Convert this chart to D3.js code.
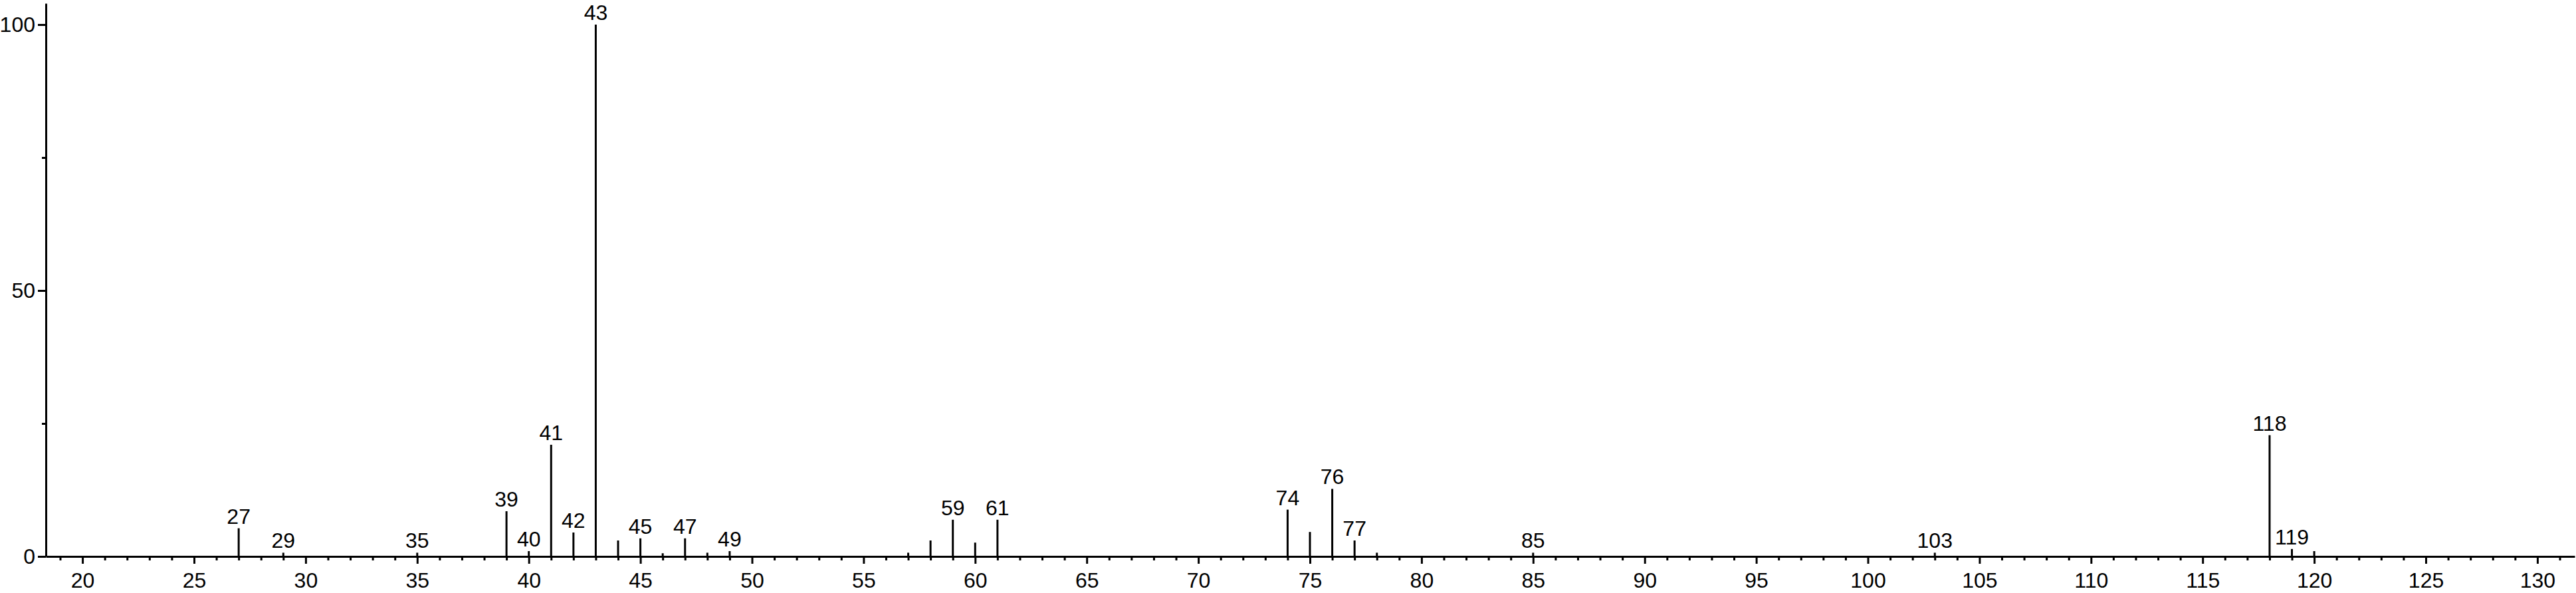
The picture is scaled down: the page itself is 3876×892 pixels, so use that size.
<!DOCTYPE html>
<html>
<head>
<meta charset="utf-8">
<script src="https://cdn.jsdelivr.net/npm/d3@7"></script>
<style>
  html, body { margin: 0; padding: 0; background: #fff; }
  svg { display: block; }
  text { font-family: "Liberation Sans", Arial, sans-serif; fill: #000; }
</style>
</head>
<body>
<div id="chart"></div>
<script>
// m/z values of the peaks and their relative intensity (%)
var mz = [27, 29, 35, 39, 40, 41, 42, 43, 44, 45, 46, 47, 48, 49, 57, 58, 59, 60, 61,
  74, 75, 76, 77, 78, 85, 103, 118, 119, 120];
var intensity = [5.3, 0.7, 0.7, 8.5, 1.0, 21.0, 4.5, 100, 3.0, 3.4, 0.6, 3.4, 0.7, 1.0, 0.7, 3.0, 6.9, 2.6, 6.9,
  8.8, 4.6, 12.7, 3.0, 0.7, 0.7, 0.7, 22.8, 1.4, 1.0];
// peaks that get a number on top
var labeled = [27, 29, 35, 39, 40, 41, 42, 43, 45, 47, 49, 59, 61, 74, 76, 77, 85, 103, 118, 119];

var xMajor = d3.range(20, 131, 5);
var xMinor = d3.range(19, 132, 1).filter(function(v) { return v % 5 != 0; });
var yMajor = [0, 50, 100];
var yMinor = [25, 75];

//Width and height
var w = 3876;
var h = 892;

var x = d3.scaleLinear().domain([18.36, 131.67]).range([69, 3874]);
var y = d3.scaleLinear().domain([0, 104]).range([837, 5]);

var peaks = mz.map(function(m, i) {
  return { mz: m, val: intensity[i], label: labeled.indexOf(m) >= 0 };
});

var svg = d3.select("#chart")
  .append("svg")
  .attr("width", w)
  .attr("height", h);

// minor x ticks
svg.append("g")
  .attr("transform", "translate(0," + y(0) + ")")
  .call(d3.axisBottom(x).tickValues(xMinor).tickSize(6).tickSizeOuter(0).tickFormat(""))
  .call(function(g) { g.select(".domain").remove(); });

// major x ticks with labels
var xAxis = svg.append("g")
  .attr("transform", "translate(0," + y(0) + ")")
  .call(d3.axisBottom(x).tickValues(xMajor).tickSize(11).tickSizeOuter(0).tickPadding(13));
xAxis.selectAll("text").attr("font-size", 32).attr("font-family", null);

// minor y ticks
svg.append("g")
  .attr("transform", "translate(" + x.range()[0] + ",0)")
  .call(d3.axisLeft(y).tickValues(yMinor).tickSize(6).tickSizeOuter(0).tickFormat(""))
  .call(function(g) { g.select(".domain").remove(); });

// major y ticks with labels
var yAxis = svg.append("g")
  .attr("transform", "translate(" + x.range()[0] + ",0)")
  .call(d3.axisLeft(y).tickValues(yMajor).tickSize(12).tickSizeOuter(0).tickPadding(4));
yAxis.selectAll("text").attr("font-size", 32).attr("font-family", null);

svg.selectAll(".tick line").attr("stroke", "#000").attr("stroke-width", 3);
svg.selectAll(".domain").attr("stroke", "#000").attr("stroke-width", 3);

// peaks
svg.selectAll("line.peak")
  .data(peaks)
  .enter()
  .append("line")
  .attr("class", "peak")
  .attr("x1", function(d) { return x(d.mz); })
  .attr("x2", function(d) { return x(d.mz); })
  .attr("y1", y(0))
  .attr("y2", function(d) { return y(d.val); })
  .attr("stroke", "#000")
  .attr("stroke-width", 3);

// peak labels
svg.selectAll("text.plabel")
  .data(peaks.filter(function(d) { return d.label; }))
  .enter()
  .append("text")
  .attr("class", "plabel")
  .attr("x", function(d) { return x(d.mz); })
  .attr("y", function(d) { return y(d.val) - 7; })
  .attr("text-anchor", "middle")
  .attr("font-size", 32)
  .text(function(d) { return d.mz; });
</script>
</body>
</html>
